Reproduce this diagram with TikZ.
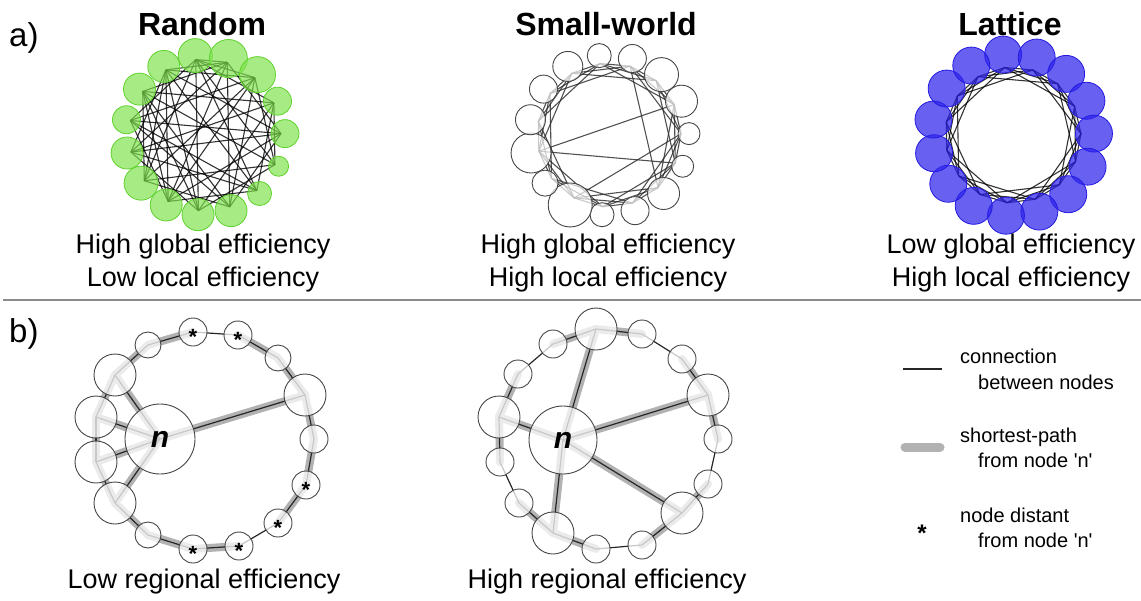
\documentclass[tikz,border=0pt]{standalone}
\usepackage{fontspec}
\setmainfont{Liberation Sans}[Ligatures=TeXOff]
\usetikzlibrary{backgrounds, positioning}
\definecolor{mygreen1}{RGB}{125, 225, 75}
\definecolor{mygreen2}{RGB}{95, 210, 45}
\definecolor{myblue1}{RGB}{45, 35, 235}
\definecolor{myblue2}{RGB}{35, 25, 225}
\definecolor{mygray1}{RGB}{178, 178, 178}
\definecolor{mygray2}{RGB}{70, 70, 70}
\definecolor{mygray3}{RGB}{140, 140, 140}
\newcommand{\distmark}{\smash{\raisebox{-0.55em}{\bfseries *}}}

\tikzset{
  headtext/.style={font=\fontsize{32}{32}\selectfont\bfseries, inner sep=0, anchor=base},
  captext/.style={font=\fontsize{27}{27}\selectfont, inner sep=0, anchor=base},
  paneltext/.style={font=\fontsize{33}{33}\selectfont, inner sep=0, anchor=base west},
  legtext/.style={font=\fontsize{20}{20}\selectfont, inner sep=0, anchor=base west},
  greennode/.style={circle, fill=mygreen1, fill opacity=0.68, draw=mygreen2, line width=0.8pt, inner sep=0},
  bluenode/.style={circle, fill=myblue1, fill opacity=0.72, draw=myblue2, line width=0.8pt, inner sep=0},
  swnode/.style={circle, fill=white, fill opacity=0.7, draw=mygray2, line width=0.9pt, inner sep=0},
  ringnode/.style={circle, fill=white, fill opacity=0.75, text opacity=1, draw=mygray2, line width=0.9pt, inner sep=0},
  netlink/.style={line width=1.1pt, black, draw opacity=0.8},
  conn/.style={line width=1.2pt, black!85},
  shortest/.style={line width=8pt, mygray1, line cap=round}
}

\begin{document}
\begin{tikzpicture}[x=1pt, y=-1pt]
\useasboundingbox (0,0) rectangle (1141,600);

% --- Panel labels and separator ---
\node[paneltext] (pa) at (9,46) {a)};
\node[paneltext] (pb) at (9,342) {b)};
\coordinate (sepl) at (3,300);
\coordinate (sepr) at (1141,300);
\draw[mygray3, line width=1.3pt] (sepl) -- (sepr);

% --- Random ---
\node[headtext] (randomtitle) at (202,35) {Random};
\coordinate (rnd) at (205,135);
\foreach \i in {1,...,15}
  \coordinate (rnd\i) at ([shift={(\i*24-121:76)}]rnd);
\foreach \a/\b in {1/4,1/6,1/9,1/11,1/13,1/3,1/7,2/5,2/8,2/10,2/12,2/14,2/15,2/1,
                   3/6,3/8,3/11,3/13,3/15,3/10,4/7,4/9,4/12,4/14,4/6,5/8,5/10,5/13,5/15,5/12,
                   6/9,6/11,6/14,7/10,7/12,7/15,7/13,8/11,8/13,8/14,9/12,9/15,9/14,
                   10/13,10/14,10/15,11/14,11/15,12/15}
  \draw[netlink] (rnd\a) -- (rnd\b);
\foreach \i/\r in {1/17,2/19,3/18,4/14,5/14,6/10,7/12,8/16,9/16,10/16,11/17,12/16,13/14,14/16,15/16}
  \node[greennode, minimum size=2*\r] (rndc\i) at ([shift={(\i*24-121:80)}]rnd) {};
\node[captext] (rndcap1) at (203,253) {High global efficiency};
\node[captext] (rndcap2) at (203,286) {Low local efficiency};

% --- Small-world ---
\node[headtext] (swtitle) at (606,35) {Small-world};
\coordinate (sw) at (609,135);
\foreach \i in {1,...,15}
  \coordinate (sw\i) at ([shift={(\i*24-121:72)}]sw);
\foreach \i in {1,...,15}
  \foreach \s in {1,2,3} {
    \pgfmathtruncatemacro{\j}{mod(\i+\s-1,15)+1}
    \draw[netlink, black!85] (sw\i) -- (sw\j);
  }
\foreach \a/\b in {12/4,12/6,10/5,2/7}
  \draw[netlink, black!85] (sw\a) -- (sw\b);
\foreach \i/\r in {1/12,2/14,3/17,4/16,5/11,6/11,7/16,8/14,9/12,10/22,11/13,12/20,13/15,14/14,15/15}
  \node[swnode, minimum size=2*\r] (swc\i) at ([shift={(\i*24-121:80)}]sw) {};
\node[captext] (swcap1) at (608,253) {High global efficiency};
\node[captext] (swcap2) at (608,286) {High local efficiency};

% --- Lattice ---
\node[headtext] (lattitle) at (1010,35) {Lattice};
\coordinate (lat) at (1013,135);
\foreach \i in {1,...,15}
  \coordinate (lat\i) at ([shift={(\i*24-121:68)}]lat);
\foreach \i in {1,...,15}
  \foreach \s in {1,2,3} {
    \pgfmathtruncatemacro{\j}{mod(\i+\s-1,15)+1}
    \draw[netlink] (lat\i) -- (lat\j);
  }
\foreach \i in {1,...,15}
  \node[bluenode, minimum size=37] (latc\i) at ([shift={(\i*24-121:81)}]lat) {};
\node[captext] (latcap1) at (1011,253) {Low global efficiency};
\node[captext] (latcap2) at (1011,286) {High local efficiency};

% --- Low regional efficiency ---
\node[ringnode, minimum size=70, font=\fontsize{30}{30}\selectfont\bfseries\itshape] (ln) at (160,439) {n};
\foreach \nm/\px/\py/\r in {l1/148/345/13, l4/278/358/13, l5/305/395/21, l6/314/439/14,
                            l11/148/535/13, l12/115/503/21, l13/96/462/21, l14/96/417/21, l15/115/375/21}
  \node[ringnode, minimum size=2*\r] (\nm) at (\px,\py) {};
\foreach \nm/\px/\py in {l2/193/332, l3/238/335, l7/306/485, l8/278/523, l9/239/546, l10/193/549}
  \node[ringnode, minimum size=28, font=\fontsize{22}{22}\selectfont] (\nm) at (\px,\py) {\distmark};
\begin{scope}[on background layer]
\foreach \a/\b in {ln/l15, ln/l14, ln/l13, ln/l12, ln/l5, l15/l1, l1/l2, l3/l4, l4/l5, l5/l6, l6/l7,
                   l7/l8, l9/l10, l10/l11, l11/l12, l12/l13, l13/l14, l14/l15}
  \draw[shortest] (\a.center) -- (\b.center);
\foreach \i [remember=\i as \j (initially 15)] in {1,...,15}
  \draw[conn] (l\j.center) -- (l\i.center);
\foreach \b in {l15, l14, l13, l12, l5}
  \draw[conn] (ln.center) -- (\b.center);
\end{scope}
\node[captext] (lowcap) at (204,588) {Low regional efficiency};

% --- High regional efficiency ---
\node[ringnode, minimum size=68, font=\fontsize{30}{30}\selectfont\bfseries\itshape] (hn) at (563,440) {n};
\foreach \nm/\px/\py/\r in {h1/553/344/14, h2/596/329/21, h3/642/334/14, h4/682/359/14, h5/708/395/21,
                            h6/718/439/14, h7/708/484/14, h8/682/513/21, h9/642/545/14, h10/596/549/14,
                            h11/553/533/21, h12/519/503/14, h13/500/462/14, h14/499/417/21, h15/518/374/14}
  \node[ringnode, minimum size=2*\r] (\nm) at (\px,\py) {};
\begin{scope}[on background layer]
\foreach \a/\b in {hn/h2, hn/h5, hn/h8, hn/h11, hn/h14, h1/h2, h2/h3, h4/h5, h5/h6, h7/h8, h8/h9,
                   h10/h11, h11/h12, h13/h14, h14/h15}
  \draw[shortest] (\a.center) -- (\b.center);
\foreach \i [remember=\i as \j (initially 15)] in {1,...,15}
  \draw[conn] (h\j.center) -- (h\i.center);
\foreach \b in {h2, h5, h8, h11, h14}
  \draw[conn] (hn.center) -- (\b.center);
\end{scope}
\node[captext] (highcap) at (607,588) {High regional efficiency};

% --- Legend ---
\coordinate (conna) at (903,369);
\coordinate (connb) at (942,369);
\draw[conn] (conna) -- (connb);
\node[legtext] (leg1a) at (960,363) {connection};
\node[legtext] (leg1b) at (978,389) {between nodes};
\coordinate (patha) at (905,447);
\coordinate (pathb) at (940,447);
\draw[shortest, line width=9pt] (patha) -- (pathb);
\node[legtext] (leg2a) at (960,442) {shortest-path};
\node[legtext] (leg2b) at (978,467) {from node 'n'};
\node[font=\fontsize{24}{24}\selectfont, inner sep=0] (legstar) at (922,528) {\distmark};
\node[legtext] (leg3a) at (960,522) {node distant};
\node[legtext] (leg3b) at (978,547) {from node 'n'};
\end{tikzpicture}
\end{document}
